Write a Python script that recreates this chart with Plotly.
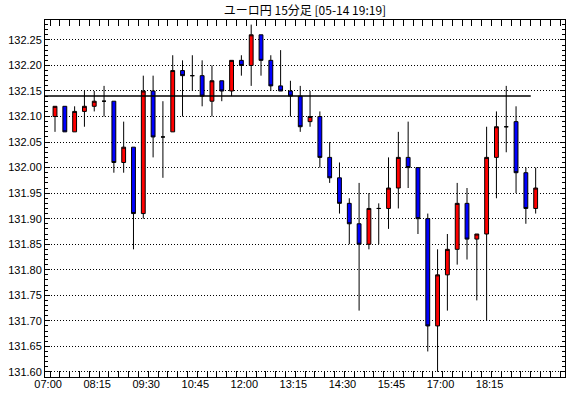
import plotly.graph_objects as go

times = ["07:00", "07:15", "07:30", "07:45", "08:00", "08:15", "08:30", "08:45", "09:00", "09:15",
         "09:30", "09:45", "10:00", "10:15", "10:30", "10:45", "11:00", "11:15", "11:30", "11:45",
         "12:00", "12:15", "12:30", "12:45", "13:00", "13:15", "13:30", "13:45", "14:00", "14:15",
         "14:30", "14:45", "15:00", "15:15", "15:30", "15:45", "16:00", "16:15", "16:30", "16:45",
         "17:00", "17:15", "17:30", "17:45", "18:00", "18:15", "18:30", "18:45", "19:00", "19:15"]

opens = [132.10, 132.12, 132.07, 132.11, 132.12, 132.13, 132.13, 132.01, 132.04, 131.91,
         132.15, 132.06, 132.07, 132.19, 132.18, 132.18, 132.13, 132.17, 132.15, 132.21,
         132.20, 132.26, 132.21, 132.16, 132.15, 132.14, 132.09, 132.10, 132.02, 131.98,
         131.93, 131.89, 131.85, 131.92, 131.92, 131.96, 132.02, 132.00, 131.90, 131.69,
         131.79, 131.84, 131.93, 131.86, 131.87, 132.02, 132.08, 132.09, 131.99, 131.92]
highs = [132.12, 132.12, 132.12, 132.15, 132.15, 132.16, 132.13, 132.09, 132.04, 132.18,
         132.18, 132.13, 132.22, 132.21, 132.22, 132.21, 132.20, 132.17, 132.21, 132.22,
         132.28, 132.26, 132.22, 132.23, 132.17, 132.16, 132.15, 132.11, 132.05, 132.01,
         131.94, 131.97, 131.95, 131.93, 132.02, 132.07, 132.09, 132.00, 131.91, 131.84,
         131.87, 131.97, 131.96, 131.87, 132.08, 132.11, 132.16, 132.12, 132.00, 132.00]
lows = [132.07, 132.07, 132.07, 132.08, 132.11, 132.10, 131.99, 131.99, 131.84, 131.90,
        132.02, 131.98, 132.07, 132.10, 132.15, 132.12, 132.10, 132.13, 132.14, 132.18,
        132.16, 132.18, 132.15, 132.15, 132.10, 132.07, 132.08, 132.00, 131.97, 131.91,
        131.85, 131.72, 131.84, 131.85, 131.88, 131.92, 131.96, 131.87, 131.64, 131.60,
        131.72, 131.81, 131.82, 131.74, 131.70, 131.94, 132.03, 131.95, 131.89, 131.91]
closes = [132.12, 132.07, 132.11, 132.12, 132.13, 132.13, 132.01, 132.04, 131.91, 132.15,
          132.06, 132.06, 132.19, 132.18, 132.18, 132.14, 132.17, 132.15, 132.21, 132.20,
          132.26, 132.21, 132.16, 132.15, 132.14, 132.08, 132.10, 132.02, 131.98, 131.93,
          131.89, 131.85, 131.92, 131.92, 131.96, 132.02, 132.00, 131.90, 131.69, 131.79,
          131.84, 131.93, 131.86, 131.87, 132.02, 132.08, 132.08, 131.99, 131.92, 131.96]

ref_price = 132.14
title_text = "ユーロ円 15分足 [05-14 19:19]"
label_every = 5

xs = list(range(len(times)))
x_lo, x_hi = -1.02, 51.99

fig = go.Figure()
fig.add_trace(go.Candlestick(
    x=xs, open=opens, high=highs, low=lows, close=closes,
    increasing=dict(fillcolor="#ff0000", line=dict(color="#000000", width=1)),
    decreasing=dict(fillcolor="#0000ff", line=dict(color="#000000", width=1)),
    whiskerwidth=0, showlegend=False, hoverinfo="skip",
))

fig.add_shape(type="line", xref="paper", yref="y", x0=0, x1=(len(times) - 1.5 - x_lo) / (x_hi - x_lo),
              y0=ref_price, y1=ref_price, line=dict(color="#000000", width=1.5))

tickvals = [i - 0.7 for i in xs[::label_every]]
ticktext = times[::label_every]

fig.update_layout(
    width=570, height=398,
    margin=dict(l=45, r=5, t=20, b=21),
    paper_bgcolor="#ffffff", plot_bgcolor="#ffffff",
    boxgap=0.44,
    title=dict(text=title_text, x=305 / 570, xanchor="center", y=1 - 11 / 398, yanchor="middle",
               font=dict(family="Noto Sans CJK JP", size=12, color="#000000")),
    font=dict(family="Liberation Sans", size=11, color="#000000"),
    showlegend=False,
)
fig.update_xaxes(
    range=[x_lo, x_hi], rangeslider=dict(visible=False), automargin=False,
    tickmode="array", tickvals=tickvals, ticktext=ticktext,
    ticks="", showgrid=False, zeroline=False, ticklabelstandoff=-3,
    showline=True, linecolor="#000000", linewidth=1, mirror="ticks",
    minor=dict(ticks="inside", tickmode="linear", tick0=-0.5, dtick=1, ticklen=6,
               tickcolor="#000000", tickwidth=1, showgrid=False),
    tickfont=dict(family="Liberation Sans", size=11, color="#000000"),
)
fig.update_yaxes(
    range=[131.590, 132.289], side="left", automargin=False,
    tickmode="linear", tick0=131.60, dtick=0.05, tickformat=".2f",
    ticks="inside", ticklen=5, tickcolor="#000000", tickwidth=1,
    showgrid=True, gridcolor="#000000", griddash="1px,2px", gridwidth=1, zeroline=False,
    showline=True, linecolor="#000000", linewidth=1, mirror="ticks",
    minor=dict(ticks="inside", tickmode="linear", tick0=131.60, dtick=0.01, ticklen=3,
               tickcolor="#000000", tickwidth=1, showgrid=False),
    tickfont=dict(family="Liberation Sans", size=11, color="#000000"),
)

fig.write_html("out.html", config={"displayModeBar": False},
               post_script="document.body.style.margin='0';document.body.style.padding='0';")
